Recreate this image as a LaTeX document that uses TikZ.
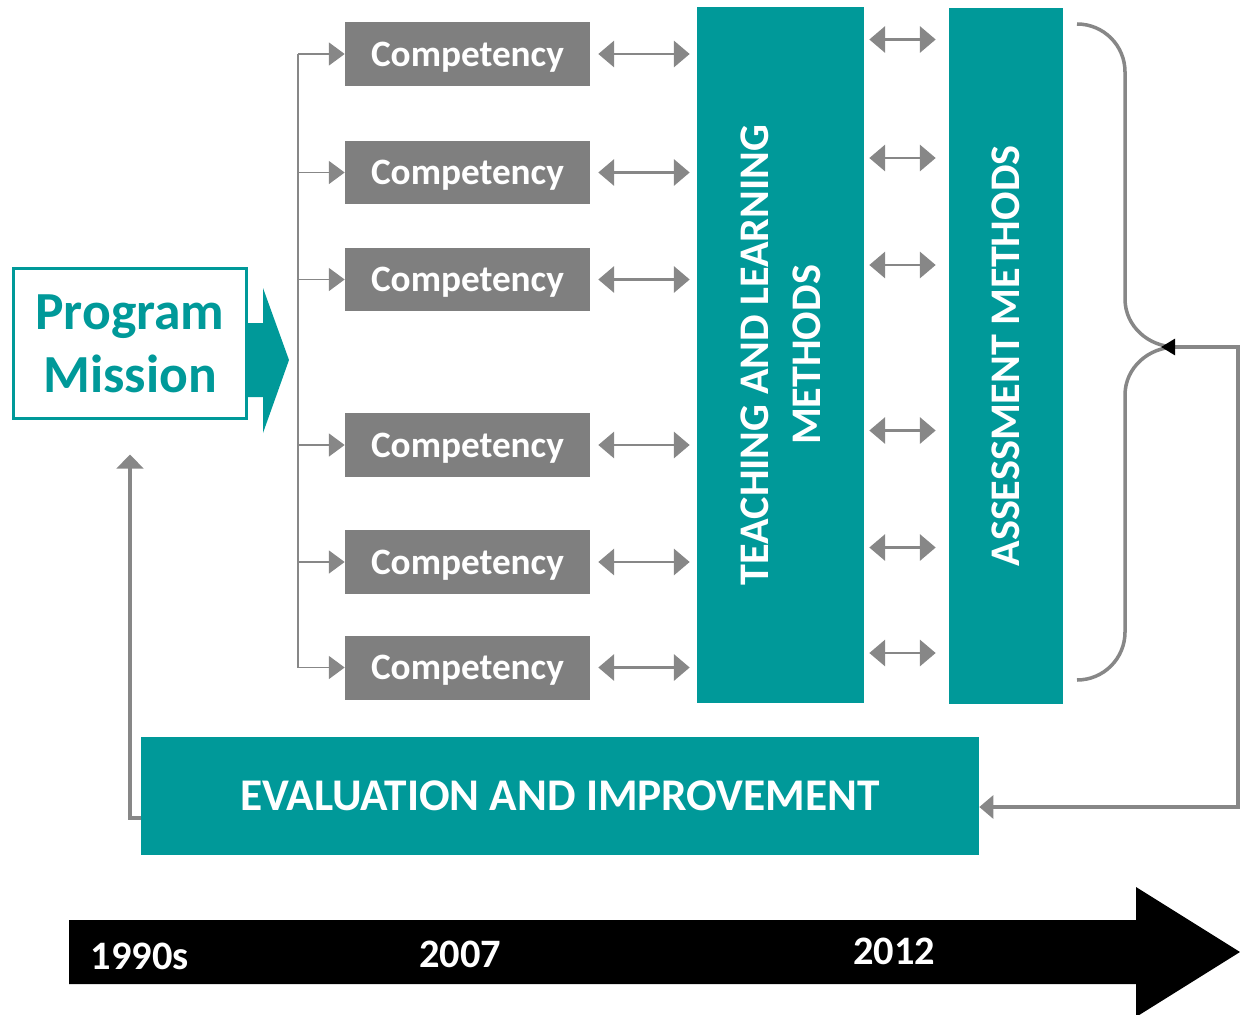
\documentclass[tikz,border=0pt]{standalone}
\usepackage{fontspec}
\setmainfont{Carlito}
\usepackage{tikz}
\usetikzlibrary{positioning}
\usetikzlibrary{arrows.meta}

\definecolor{tealbox}{RGB}{0,153,153}
\definecolor{greybox}{RGB}{127,127,127}
\definecolor{greyline}{RGB}{135,135,135}

\begin{document}
\begin{tikzpicture}
                [x=0.02cm, y=-0.02cm,
                 comp/.style = {fill=greybox, text=white, inner sep=0pt,
                   minimum width=4.9cm, minimum height=1.28cm, text depth=0pt,
                   font=\bfseries\fontsize{21.2}{26}\selectfont},
                 block/.style = {fill=tealbox, text=white, inner sep=0pt, align=center,
                   font=\bfseries\fontsize{24}{29.5}\selectfont},
                 branch/.style = {draw=greyline, line width=1.1pt,
                   -{Triangle[length=9pt,width=13pt]}},
                 dbl/.style = {draw=greyline, line width=1.2pt,
                   {Triangle[length=9pt,width=15pt]}-{Triangle[length=9pt,width=15pt]}},
                 loop/.style = {draw=greyline, line width=2pt}]

                \useasboundingbox (0,0) rectangle (1240,1014);

                % mission and its arrow
                \node[draw=tealbox, line width=1.7pt, text=tealbox, align=center,
                      minimum width=4.68cm, minimum height=3.02cm, inner sep=0pt,
                      font=\bfseries\fontsize{30.5}{36}\selectfont]
                      (mission) at (130,343.5) {Program\\Mission};
                \fill[tealbox] (247,323) -- (263,323) -- (263,288) -- (289,360)
                      -- (263,433) -- (263,397) -- (247,397) -- cycle;

                % competencies
                \node[comp] (c1) at (467.5,54) {Competency};
                \node[comp] (c2) at (467.5,172.5) {Competency};
                \node[comp] (c3) at (467.5,279.5) {Competency};
                \node[comp] (c4) at (467.5,445) {Competency};
                \node[comp] (c5) at (467.5,562) {Competency};
                \node[comp] (c6) at (467.5,667.5) {Competency};

                % method columns
                \node[block, minimum width=3.34cm, minimum height=13.92cm]
                      (tl) at (780.5,355) {};
                \node[block, rotate=90] at (tl.center) {TEACHING AND LEARNING\\METHODS};
                \node[block, minimum width=2.28cm, minimum height=13.92cm]
                      (am) at (1006,356) {};
                \node[block, rotate=90] at (am.center) {ASSESSMENT METHODS};

                \node[block, minimum width=16.76cm, minimum height=2.36cm,
                      font=\bfseries\fontsize{25.8}{30}\selectfont]
                      (eval) at (560,796) {EVALUATION AND IMPROVEMENT};

                % tree to the competencies
                \coordinate (trunk) at (298,0);
                \draw[greyline, line width=1.1pt] (trunk |- c1) -- (trunk |- c6);
                \foreach \i in {1,...,6} {
                    \draw[branch] (trunk |- c\i) -- (c\i.west);
                    \draw[dbl, shorten <=0.16cm, shorten >=0.14cm]
                          (c\i.east) -- (tl.west |- c\i.east);
                    \draw[dbl, shorten <=0.1cm, shorten >=0.26cm]
                          ([yshift=0.29cm]tl.east |- c\i) -- ([yshift=0.29cm]am.west |- c\i);
                }

                % brace and feedback loop
                \coordinate (bracetip) at (1176,347);
                \draw[loop] (1077,24) to[out=0,in=90] (1125,72) -- (1125,299)
                      to[out=-90,in=180] (bracetip) to[out=180,in=90] (1125,395)
                      -- (1125,632) to[out=-90,in=0] (1077,680);
                \draw[loop, {Triangle[length=8pt,width=9pt,black]}-{Triangle[length=8pt,width=13pt]}]
                      ([xshift=-0.3cm]bracetip) -- (1238,347) |- ([yshift=-0.22cm]eval.east);
                \draw[loop, -{Triangle[length=8pt,width=15pt]}]
                      ([yshift=-0.44cm]eval.west) -| ([yshift=-0.68cm]mission.south);

                % timeline
                \fill[black] (69,920) -- (1136,920) -- (1136,887) -- (1240,952)
                      -- (1136,1017) -- (1136,984) -- (69,984) -- cycle;
                \node[text=white, font=\bfseries\fontsize{23}{28}\selectfont] (t1) at (140,956) {1990s};
                \node[text=white, font=\bfseries\fontsize{23}{28}\selectfont] (t2) at (460,954) {2007};
                \node[text=white, font=\bfseries\fontsize{23}{28}\selectfont] (t3) at (894,951) {2012};

            \end{tikzpicture}
\end{document}
